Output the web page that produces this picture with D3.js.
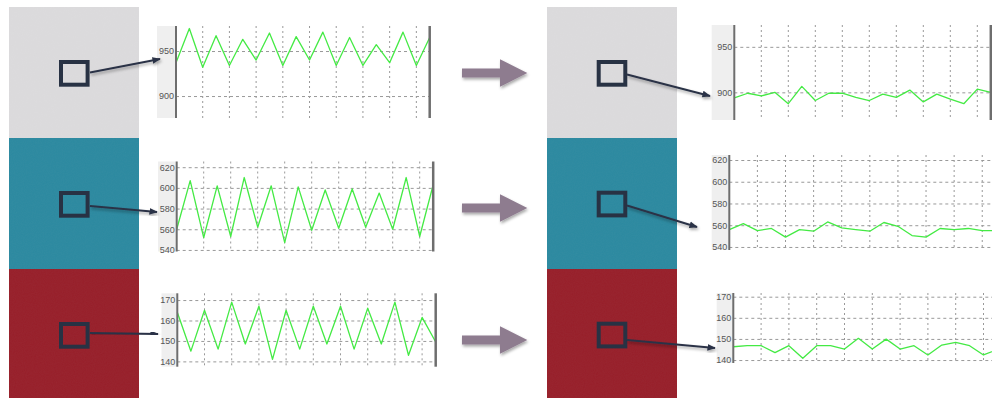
<!DOCTYPE html>
<html>
<head>
<meta charset="utf-8">
<script src="https://cdn.jsdelivr.net/npm/d3@7"></script>
<style>
  html, body { margin: 0; padding: 0; background: #fff; }
  svg { display: block; }
</style>
</head>
<body>
<div id="chart"></div>
<script>
// values: 20 samples per trace
const grayBefore = [937, 975, 932, 967, 934, 963, 940, 970, 934, 966, 940, 971, 934, 965, 934, 957, 937, 971, 934, 965];
const tealBefore = [560, 607, 552, 602, 553, 610, 562, 602, 547, 601, 559, 598, 561, 599, 562, 595, 560, 610, 553, 603];
const redBefore = [164, 145, 165, 146, 169, 148.5, 167, 141, 165, 146, 167, 148.5, 167, 146, 166, 148.5, 169, 143, 161.5, 149.5];
const grayAfter = [894, 899, 896, 900, 887.5, 906.5, 891, 899, 899, 894.5, 891, 898, 894.5, 902.5, 889.5, 898, 892.5, 887.5, 903.5, 900];
const tealAfter = [556, 561.5, 555, 557, 549, 556, 554.5, 563, 557.5, 556, 554.5, 562.5, 559, 550.5, 549, 557, 556, 557, 555, 555];
const redAfter = [146.3, 146.8, 146.8, 143.5, 146.8, 140.8, 146.8, 146.8, 145.2, 150.3, 145.2, 149.9, 145.2, 146.8, 142.4, 147.1, 148.4, 146.8, 142.4, 145];

const grayTicks = [900, 950];
const tealTicks = [540, 560, 580, 600, 620];
const redTicks = [140, 150, 160, 170];

const swatchColors = ["#dcdbdd", "#2b89a0", "#971e29"];

const width = 992, height = 398;
const svg = d3.select("#chart").append("svg").attr("width", width).attr("height", height);
const defs = svg.append("defs");

// soft shadow used by arrows
const shadow = defs.append("filter").attr("id", "shadow").attr("x", "-20%").attr("y", "-40%").attr("width", "150%").attr("height", "200%");
shadow.append("feDropShadow").attr("dx", 1).attr("dy", 2).attr("stdDeviation", 1.6).attr("flood-color", "#000").attr("flood-opacity", 0.35);

// fine grain for the colour swatches
const grain = defs.append("filter").attr("id", "grain");
grain.append("feTurbulence").attr("type", "fractalNoise").attr("baseFrequency", 0.9).attr("numOctaves", 2).attr("result", "n");
grain.append("feColorMatrix").attr("in", "n").attr("type", "matrix")
  .attr("values", "0 0 0 0 0.5  0 0 0 0 0.5  0 0 0 0 0.5  0 0 0 0.05 0");
grain.append("feComposite").attr("in2", "SourceGraphic").attr("operator", "in");

defs.append("marker")
  .attr("id", "head")
  .attr("viewBox", "0 0 10 10")
  .attr("refX", 9).attr("refY", 5)
  .attr("markerWidth", 4.2).attr("markerHeight", 4.2)
  .attr("orient", "auto")
  .append("path").attr("d", "M0,1 L10,5 L0,9 Z").attr("fill", "#2b3346");

// swatch columns (left = before, right = after)
const columns = [{ x: 9, w: 130 }, { x: 547, w: 130 }];
const bands = [{ y: 7, h: 131 }, { y: 138, h: 131 }, { y: 269, h: 129 }];

columns.forEach((c) => {
  bands.forEach((b, i) => {
    svg.append("rect").attr("x", c.x).attr("y", b.y).attr("width", c.w).attr("height", b.h).attr("fill", swatchColors[i]);
    svg.append("rect").attr("x", c.x).attr("y", b.y).attr("width", c.w).attr("height", b.h).attr("fill", "#fff").attr("filter", "url(#grain)");
  });
});

// chart panels
const panels = [
  { data: grayBefore, ticks: grayTicks, strip: 157, x0: 176, x1: 429.7, top: 26, bottom: 118, domain: [875.6, 977.8], border: true },
  { data: tealBefore, ticks: tealTicks, strip: 158, x0: 176.7, x1: 433.2, top: 161.5, bottom: 251.5, domain: [538.5, 625.5], border: true },
  { data: redBefore, ticks: redTicks, strip: 161.5, x0: 177.3, x1: 435.7, top: 293.3, bottom: 366.7, domain: [137.4, 173.3], border: true },
  { data: grayAfter, ticks: grayTicks, strip: 711.7, x0: 734.3, x1: 990.8, top: 25, bottom: 120, domain: [869.6, 974], border: true },
  { data: tealAfter, ticks: tealTicks, strip: 711.7, x0: 729.3, x1: 996.3, top: 155, bottom: 250, domain: [537.2, 624.6], border: false },
  { data: redAfter, ticks: redTicks, strip: 716.7, x0: 733.3, x1: 997.4, top: 293, bottom: 363, domain: [138.6, 171.75], border: false },
];

panels.forEach((p) => {
  const x = d3.scaleLinear().domain([0, p.data.length - 1]).range([p.x0, p.x1]);
  const y = d3.scaleLinear().domain(p.domain).range([p.bottom, p.top]);
  const g = svg.append("g");
  const right = Math.min(p.x1, width);

  g.append("rect").attr("x", p.x0).attr("y", p.top).attr("width", right - p.x0).attr("height", p.bottom - p.top).attr("fill", "#fff");
  g.append("rect").attr("x", p.strip).attr("y", p.top).attr("width", p.x0 - p.strip).attr("height", p.bottom - p.top).attr("fill", "#efefef");

  // vertical dotted grid every second sample
  const vticks = d3.range(2, p.data.length, 2);
  g.selectAll(".vg").data(vticks).join("line")
    .attr("x1", (d) => x(d)).attr("x2", (d) => x(d))
    .attr("y1", p.top).attr("y2", p.bottom)
    .attr("stroke", "#999").attr("stroke-width", 1).attr("stroke-dasharray", "2,3");

  // horizontal dashed grid + labels
  const yAxis = d3.axisLeft(y).tickValues(p.ticks).tickSize(-(right - p.x0)).tickPadding(2);
  const ax = g.append("g").attr("transform", `translate(${p.x0},0)`).call(yAxis);
  ax.select(".domain").remove();
  ax.selectAll(".tick line").attr("stroke", "#999").attr("stroke-dasharray", "3,3");
  ax.selectAll(".tick text").attr("font-family", "Liberation Sans, Arial, sans-serif").attr("font-size", 9).attr("fill", "#555");

  g.append("path")
    .datum(p.data)
    .attr("fill", "none")
    .attr("stroke", "#44ea44")
    .attr("stroke-width", 1.3)
    .attr("stroke-linejoin", "round")
    .attr("d", d3.line().x((d, i) => x(i)).y((d) => y(d)));

  g.append("line").attr("x1", p.x0).attr("x2", p.x0).attr("y1", p.top).attr("y2", p.bottom).attr("stroke", "#6e6e6e").attr("stroke-width", 2);
  if (p.border) {
    g.append("line").attr("x1", p.x1).attr("x2", p.x1).attr("y1", p.top).attr("y2", p.bottom).attr("stroke", "#6e6e6e").attr("stroke-width", 2.5);
  }
});

// sample squares and pointer arrows
const squares = [
  { x: 61, y: 62, from: [90, 72.5], to: [160, 59] },
  { x: 61, y: 193, from: [90, 206], to: [157, 212] },
  { x: 61, y: 324, from: [90, 333], to: [158, 334] },
  { x: 598.7, y: 62, from: [627, 74.5], to: [710, 96] },
  { x: 598.7, y: 192.7, from: [627, 205.5], to: [697, 227] },
  { x: 598.7, y: 323.7, from: [627, 340], to: [715, 348] },
];

squares.forEach((s) => {
  svg.append("rect").attr("x", s.x).attr("y", s.y).attr("width", 26.6).attr("height", 22.7)
    .attr("fill", "none").attr("stroke", "#283244").attr("stroke-width", 4);
  svg.append("line")
    .attr("x1", s.from[0]).attr("y1", s.from[1]).attr("x2", s.to[0]).attr("y2", s.to[1])
    .attr("stroke", "#2b3346").attr("stroke-width", 2)
    .attr("marker-end", "url(#head)")
    .attr("filter", "url(#shadow)");
});

// big block arrows between before and after
const blockArrows = [73, 208, 340];
blockArrows.forEach((cy) => {
  const p = d3.path();
  p.moveTo(462, cy - 4.5);
  p.lineTo(500, cy - 4.5);
  p.lineTo(500, cy - 13.7);
  p.lineTo(527.3, cy);
  p.lineTo(500, cy + 13.7);
  p.lineTo(500, cy + 4.5);
  p.lineTo(462, cy + 4.5);
  p.closePath();
  svg.append("path").attr("d", p.toString()).attr("fill", "#8e7b8f").attr("filter", "url(#shadow)");
});
</script>
</body>
</html>
